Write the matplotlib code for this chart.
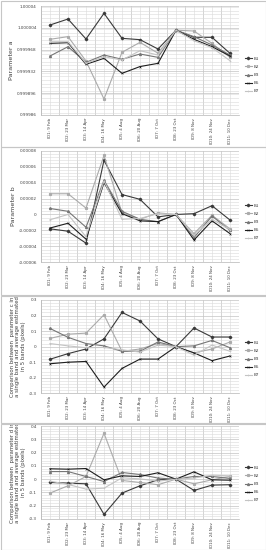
import matplotlib
matplotlib.use("Agg")
import matplotlib.pyplot as plt
from matplotlib.patches import Rectangle
from matplotlib.ticker import FixedLocator, FixedFormatter, MultipleLocator

plt.rcParams['font.family'] = ['DejaVu Sans']

categories = ["ID1: 9 Feb", "ID2: 23 Mar", "ID3: 14 Apr", "ID4: 16 May", "ID5: 4 Aug",
              "ID6: 20 Aug", "ID7: 7 Oct", "ID8: 23 Oct", "ID9: 8 Nov", "ID10: 24 Nov",
              "ID11: 10 Dec"]
bands = ["B1", "B2", "B3", "B5", "B7"]

# Panel 1: parameter a
a_B1 = [1.0000086, 1.0000185, 0.9999855, 1.0000279, 0.9999866, 0.9999844, 0.999969, 1.0, 0.9999883, 0.9999883, 0.9999618]
a_B2 = [0.999985, 0.9999894, 0.9999492, 0.9998864, 0.9999635, 0.99998, 0.999962, 1.0, 0.9999987, 0.9999783, 0.9999552]
a_B3 = [0.9999574, 0.9999728, 0.999947, 0.999959, 0.999952, 0.9999607, 0.9999552, 1.0, 0.9999894, 0.9999756, 0.999959]
a_B5 = [0.9999783, 0.9999794, 0.9999437, 0.9999536, 0.9999288, 0.99994, 0.9999453, 1.0, 0.999985, 0.9999728, 0.9999574]
a_B7 = [0.999981, 0.999981, 0.9999453, 0.9999563, 0.9999508, 0.9999662, 0.999959, 1.0, 0.9999827, 0.9999712, 0.9999497]
a_ticks = [0.99986, 0.999896, 0.999932, 0.999968, 1.000004, 1.00004]
a_labels = ["0.99986", "0.999896", "0.999932", "0.999968", "1.000004", "1.00004"]

# Panel 2: parameter b
b_B1 = [-0.000018, -0.000021, -0.000036, 0.000068, 0.000025, 0.000019, -0.000003, 0, 0.000001, 0.000011, -0.000007]
b_B2 = [0.000026, 0.000026, 0.000008, 0.000074, 0.000002, -0.000006, 0.000002, 0, -0.000024, -0.000001, -0.000018]
b_B3 = [0.0000075, 0.000004, -0.000016, 0.000043, 0.000004, -0.000006, -0.000009, 0, -0.000029, -0.000002, -0.00002]
b_B5 = [-0.000017, -0.000011, -0.000031, 0.00004, 0.000001, -0.000008, -0.000009, 0, -0.000032, -0.000008, -0.000024]
b_B7 = [-0.0000066, 0.0, -0.000028, 0.000042, -0.000006, -0.000005, 0.000001, 0, -0.000026, -0.000006, -0.000019]
b_ticks = [-0.00006, -0.00004, -0.00002, 0, 0.00002, 0.00004, 0.00006, 0.00008]
b_labels = ["-0.00006", "-0.00004", "-0.00002", "0", "0.00002", "0.00004", "0.00006", "0.00008"]

# Panel 3: parameter c comparison
c_B1 = [-0.081, -0.045, -0.015, 0.05, 0.22, 0.165, 0.05, 0, 0.12, 0.062, 0.062]
c_B2 = [0.053, 0.08, 0.087, 0.205, -0.03, -0.015, 0.02, 0, -0.04, -0.015, 0.03]
c_B3 = [0.117, 0.06, 0.02, 0.005, -0.03, -0.03, 0.03, 0, 0.005, 0.04, -0.007]
c_B5 = [-0.11, -0.1, -0.095, -0.26, -0.14, -0.08, -0.08, 0, -0.04, -0.09, -0.06]
c_B7 = [0.02, 0.005, -0.007, -0.005, -0.02, -0.035, 0.01, 0, -0.055, 0.01, -0.03]
c_ticks = [-0.3, -0.2, -0.1, 0, 0.1, 0.2, 0.3]
c_labels = ["-0.3", "-0.2", "-0.1", "0", "0.1", "0.2", "0.3"]

# Panel 4: parameter d comparison
d_B1 = [-0.025, -0.03, -0.035, -0.265, -0.105, -0.05, -0.005, 0, -0.085, -0.045, -0.042]
d_B2 = [-0.105, -0.05, 0.02, 0.345, -0.01, -0.025, -0.042, 0, -0.035, -0.005, 0.02]
d_B3 = [0.057, 0.057, 0.02, -0.018, 0.05, 0.035, 0.008, 0, 0.02, 0.02, 0.005]
d_B5 = [0.078, 0.075, 0.08, -0.005, 0.025, 0.02, 0.048, 0, 0.055, -0.005, -0.008]
d_B7 = [-0.015, -0.04, -0.075, -0.068, 0.01, 0.002, -0.015, 0, 0.008, 0.03, 0.025]
d_ticks = [-0.3, -0.2, -0.1, 0, 0.1, 0.2, 0.3, 0.4]
d_labels = ["-0.3", "-0.2", "-0.1", "0", "0.1", "0.2", "0.3", "0.4"]

styles = {
    "B1": dict(color="#3a3a3a", marker="D", ms=1.3, lw=0.8),
    "B2": dict(color="#ababab", marker="s", ms=1.3, lw=0.8),
    "B3": dict(color="#767676", marker="^", ms=1.4, lw=0.8),
    "B5": dict(color="#1e1e1e", marker="x", ms=1.3, lw=0.8, mew=0.4),
    "B7": dict(color="#c4c4c4", marker="+", ms=1.3, lw=0.8, mew=0.4),
}

W, H = 266, 550
fig = plt.figure(figsize=(W / 100, H / 100), dpi=100)

# panel borders
for (y0, y1) in [(0.5, 146.5), (147.5, 294.5), (295.5, 422.5), (423.5, 549.5)]:
    fig.patches.append(Rectangle((0.5 / W, 1 - y1 / H), (W - 1) / W, (y1 - y0) / H,
                                 transform=fig.transFigure, fill=False,
                                 edgecolor="#c6c6c6", lw=0.8))

panels = [
    dict(box=(41, 6, 239, 115), data=[a_B1, a_B2, a_B3, a_B5, a_B7], ticks=a_ticks, labels=a_labels,
         minor=0.000006, ylabel="Parameter a", yl_fs=4.6, leg_y=75),
    dict(box=(41, 150.7, 239, 262.3), data=[b_B1, b_B2, b_B3, b_B5, b_B7], ticks=b_ticks, labels=b_labels,
         minor=0.000004, ylabel="Parameter b", yl_fs=4.6, leg_y=222),
    dict(box=(41, 300, 239, 393.3), data=[c_B1, c_B2, c_B3, c_B5, c_B7], ticks=c_ticks, labels=c_labels,
         minor=0.02, ylabel="Comparison between  parameter c in\na single band and average estimated\nin 5 bands (pixels)",
         yl_fs=3.9, leg_y=359),
    dict(box=(41, 426, 239, 519), data=[d_B1, d_B2, d_B3, d_B5, d_B7], ticks=d_ticks, labels=d_labels,
         minor=0.02, ylabel="Comparison between  parameter d in\na single band and average estimated\nin 5 bands (pixels)",
         yl_fs=3.9, leg_y=484),
]

x = list(range(len(categories)))
for p in panels:
    x0, y0, x1, y1 = p["box"]
    ax = fig.add_axes([x0 / W, 1 - y1 / H, (x1 - x0) / W, (y1 - y0) / H])
    for b, vals in zip(bands, p["data"]):
        ax.plot(x, vals, label=b, **styles[b])
    ax.set_xlim(-0.5, len(categories) - 0.5)
    ax.set_ylim(p["ticks"][0], p["ticks"][-1])
    ax.yaxis.set_major_locator(FixedLocator(p["ticks"]))
    ax.yaxis.set_major_formatter(FixedFormatter(p["labels"]))
    ax.yaxis.set_minor_locator(MultipleLocator(p["minor"]))
    ax.set_xticks(x)
    ax.set_xticklabels(categories, rotation=90, fontsize=2.9, color="#404040")
    ax.set_xticks([i - 0.5 for i in range(len(categories) + 1)], minor=True)
    ax.tick_params(axis="both", which="both", length=0, pad=2)
    ax.tick_params(axis="y", labelsize=3.0, labelcolor="#404040", pad=3)
    ax.grid(True, which="major", axis="y", color="#c4c4c4", lw=0.5)
    ax.grid(True, which="minor", axis="y", color="#dadada", lw=0.4)
    ax.grid(True, which="minor", axis="x", color="#c4c4c4", lw=0.5)
    ax.grid(True, which="major", axis="x", color="#dadada", lw=0.4)
    ax.set_axisbelow(True)
    for s in ["top", "right"]:
        ax.spines[s].set_visible(False)
    for s in ["left", "bottom"]:
        ax.spines[s].set_color("#b5b5b5")
        ax.spines[s].set_linewidth(0.5)
    ax.set_ylabel(p["ylabel"], fontsize=p["yl_fs"], color="#404040", labelpad=2, linespacing=1.15)
    leg = ax.legend(loc="center left", bbox_to_anchor=(243 / W, 1 - p["leg_y"] / H),
                    bbox_transform=fig.transFigure, frameon=False, fontsize=3.0,
                    handlelength=1.6, handletextpad=0.5, labelspacing=1.0, borderpad=0)
    for t in leg.get_texts():
        t.set_color("#404040")

fig.savefig("out.png", dpi=100)
